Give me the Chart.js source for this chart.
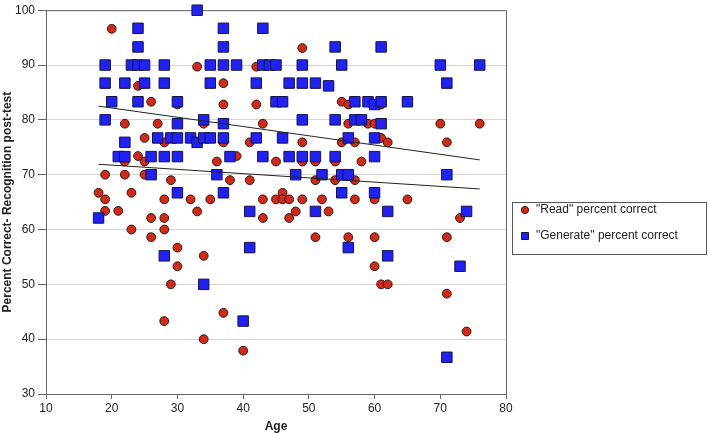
<!DOCTYPE html>
<html>
<head>
<meta charset="utf-8">
<script src="https://cdn.jsdelivr.net/npm/chart.js@4"></script>
<style>
  body { margin: 0; background: #fff; }
  #wrap { width: 710px; height: 434px; }
</style>
</head>
<body>
<div id="wrap"><canvas id="ageChart"></canvas></div>
<script>
// "Read" percent correct, by age
const readAge = [20, 18, 19, 19, 19, 21, 22, 22, 22, 23, 23, 24, 24, 25, 25, 25, 26, 26, 26, 27,
  28, 28, 28, 28, 28, 29, 29, 30, 30, 30, 32, 33, 33, 34, 34, 34, 35, 36, 37, 37,
  37, 37, 38, 39, 40, 41, 41, 42, 42, 43, 43, 43, 45, 45, 46, 46, 47, 47, 48, 49,
  49, 49, 49, 51, 51, 51, 52, 53, 54, 54, 55, 55, 56, 56, 56, 57, 57, 57, 58, 59,
  60, 60, 60, 60, 61, 61, 61, 62, 62, 65, 70, 71, 71, 71, 73, 74, 76];
const readPct = [96.6, 66.7, 65.5, 63.4, 70, 63.4, 79.3, 70, 72.4, 66.7, 60, 86.2, 73.4, 76.7, 72.4, 70, 83.3, 62.1, 58.6, 79.3,
  75.9, 65.5, 62.1, 60, 43.3, 69, 50, 82.8, 56.7, 53.3, 65.5, 89.7, 63.3, 79.3, 55.2, 40, 65.5, 72.4, 86.7, 82.8,
  75.9, 44.8, 69, 73.4, 37.9, 75.9, 69, 89.7, 82.8, 79.3, 65.5, 62.1, 72.4, 65.5, 66.7, 65.5, 65.5, 62.1, 63.3, 93.1,
  75.9, 72.4, 65.5, 72.4, 69, 58.6, 65.5, 63.3, 72.4, 69, 83.3, 75.9, 82.8, 79.3, 58.6, 75.9, 69, 65.5, 72.4, 79.3,
  79.3, 65.5, 58.6, 53.3, 82.8, 76.7, 50, 75.9, 50, 65.5, 79.3, 75.9, 58.6, 48.3, 62.1, 41.4, 79.3];

// "Generate" percent correct, by age
const genAge = [18, 19, 19, 19, 20, 21, 22, 22, 22, 23, 24, 24, 24, 24, 25, 25, 26, 26, 27, 28,
  28, 28, 28, 29, 30, 30, 30, 30, 30, 32, 33, 33, 34, 34, 34, 35, 35, 35, 36, 37,
  37, 37, 37, 37, 37, 38, 39, 40, 41, 41, 42, 42, 43, 43, 43, 44, 45, 45, 46, 46,
  47, 47, 48, 49, 49, 49, 49, 51, 51, 51, 52, 53, 54, 54, 54, 55, 55, 55, 56, 56,
  56, 57, 57, 58, 59, 60, 60, 60, 60, 61, 61, 61, 62, 62, 65, 70, 71, 71, 71, 73,
  74, 76];
const genPct = [62.1, 90, 86.7, 80, 83.3, 73.3, 86.7, 75.9, 73.3, 90, 96.7, 93.3, 90, 83.3, 90, 86.7, 73.3, 70, 76.7, 90,
  86.7, 73.3, 55.2, 76.7, 83.3, 79.3, 76.7, 73.3, 66.7, 76.7, 100, 75.9, 80, 76.7, 50, 90, 86.7, 76.7, 70, 96.7,
  93.3, 90, 79.3, 76.7, 66.7, 73.3, 90, 43.3, 63.3, 56.7, 86.7, 76.7, 96.7, 90, 73.3, 90, 90, 83.3, 83.3, 76.7,
  86.7, 73.3, 70, 90, 86.7, 80, 73.3, 86.7, 73.3, 63.3, 70, 86.2, 93.3, 80, 73.3, 90, 70, 66.7, 76.7, 70,
  56.7, 83.3, 80, 80, 83.3, 82.8, 76.7, 73.3, 66.7, 93.3, 83.3, 79.3, 63.3, 55.2, 83.3, 90, 86.7, 70, 36.7, 53.3,
  63.3, 90];

// linear trend lines (end points)
const trendAge = [18, 76];
const readTrend = [71.9, 67.4];
const genTrend = [82.5, 72.7];

const FONT = "'Liberation Sans', Arial, sans-serif";
const RED = "#cf2b1d", RED_EDGE = "#3b120a";
const BLUE = "#2121f2", BLUE_EDGE = "#15154a";

function toPoints(xs, ys) {
  return xs.map((x, i) => ({ x: x, y: ys[i] }));
}

// box lines on top and right of the plot
const frame = {
  id: "frame",
  beforeDatasetsDraw(chart) {
    const { ctx, chartArea: a } = chart;
    ctx.save();
    ctx.strokeStyle = "#666";
    ctx.lineWidth = 1;
    ctx.beginPath();
    ctx.moveTo(a.left, a.top + 0.5);
    ctx.lineTo(a.right + 0.5, a.top + 0.5);
    ctx.lineTo(a.right + 0.5, a.bottom);
    ctx.stroke();
    ctx.restore();
  }
};

// boxed legend at the right
const boxLegend = {
  id: "boxLegend",
  afterDraw(chart) {
    const ctx = chart.ctx;
    const x0 = 512.5, y0 = 202.5, w = 194, h = 52;
    ctx.save();
    ctx.strokeStyle = "#555";
    ctx.lineWidth = 1;
    ctx.strokeRect(x0, y0, w, h);
    ctx.font = "12px " + FONT;
    ctx.fillStyle = "#222";
    ctx.textBaseline = "middle";
    ctx.textAlign = "left";
    chart.data.datasets.slice(0, 2).forEach((ds, i) => {
      const cy = 210 + i * 26;
      ctx.fillStyle = ds.backgroundColor;
      ctx.strokeStyle = ds.borderColor;
      ctx.beginPath();
      if (i === 0) ctx.arc(525, cy, 3.6, 0, Math.PI * 2);
      else ctx.rect(521.5, cy - 3.5, 7, 7);
      ctx.fill();
      ctx.stroke();
      ctx.fillStyle = "#222";
      ctx.fillText(ds.label, 536, cy);
    });
    ctx.restore();
  }
};

new Chart(document.getElementById("ageChart"), {
  type: "scatter",
  data: {
    datasets: [
      {
        label: "\"Read\" percent correct",
        data: toPoints(readAge, readPct),
        pointStyle: "circle",
        pointRadius: 4.4,
        backgroundColor: RED,
        borderColor: RED_EDGE,
        borderWidth: 1,
        order: 3,
        clip: false
      },
      {
        label: "\"Generate\" percent correct",
        data: toPoints(genAge, genPct),
        pointStyle: "rect",
        pointRadius: 7.4,
        backgroundColor: BLUE,
        borderColor: BLUE_EDGE,
        borderWidth: 1,
        order: 2,
        clip: false
      },
      {
        label: "Read trend",
        data: toPoints(trendAge, readTrend),
        showLine: true,
        pointRadius: 0,
        borderColor: "#222",
        borderWidth: 1,
        order: 1
      },
      {
        label: "Generate trend",
        data: toPoints(trendAge, genTrend),
        showLine: true,
        pointRadius: 0,
        borderColor: "#222",
        borderWidth: 1,
        order: 1
      }
    ]
  },
  options: {
    responsive: true,
    maintainAspectRatio: false,
    animation: false,
    events: [],
    layout: { padding: { top: 9, right: 204, bottom: 0, left: 0 } },
    plugins: {
      legend: { display: false },
      tooltip: { enabled: false }
    },
    scales: {
      x: {
        type: "linear",
        min: 10,
        max: 80,
        ticks: { stepSize: 10, color: "#222", font: { family: FONT, size: 12 }, padding: 2 },
        grid: { drawOnChartArea: false, tickLength: 5, tickColor: "#666" },
        border: { color: "#666", width: 1 },
        title: { display: true, text: "Age", color: "#222", font: { family: FONT, size: 12, weight: "bold" }, padding: { top: 0, bottom: 0 } },
        afterFit(scale) { scale.height = 40; }
      },
      y: {
        min: 30,
        max: 100,
        ticks: { stepSize: 10, color: "#222", font: { family: FONT, size: 12 }, padding: 3 },
        grid: { color: "#d4d4d4", lineWidth: 1, tickLength: 8, tickColor: "#666" },
        border: { color: "#666", width: 1 },
        title: { display: true, text: "Percent Correct- Recognition post-test", color: "#222", font: { family: FONT, size: 12, weight: "bold" }, padding: { top: 0, bottom: 0 } },
        afterFit(scale) { scale.width = 46; }
      }
    }
  },
  plugins: [frame, boxLegend]
});
</script>
</body>
</html>
